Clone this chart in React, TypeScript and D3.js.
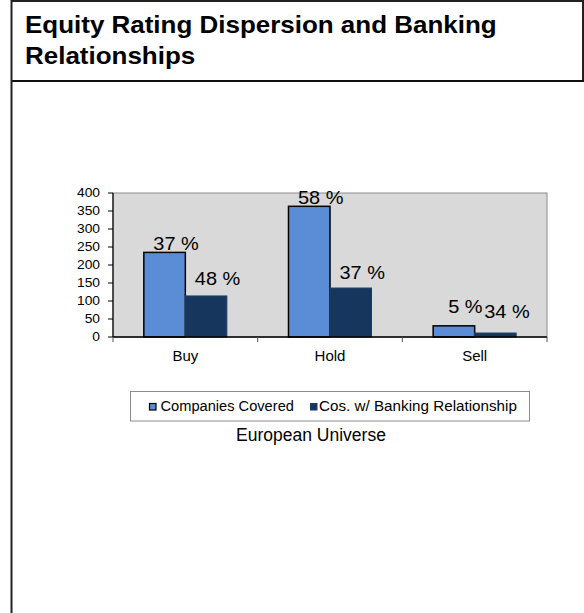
import React from "react";
import * as d3 from "d3";

const categories = ["Buy", "Hold", "Sell"];
const seriesNames = ["Companies Covered", "Cos. w/ Banking Relationship"];
const companiesCovered = [235, 363, 31];
const bankingRelationship = [114, 136, 11];
const companyLabels = ["37 %", "58 %", "5 %"];
const bankingLabels = ["48 %", "37 %", "34 %"];
const yTicks = [0, 50, 100, 150, 200, 250, 300, 350, 400];
const titleLines = ["Equity Rating Dispersion and Banking", "Relationships"];
const subtitle = "European Universe";

// layout / style constants
const W = 584;
const H = 613;
const PLOT = { left: 113, right: 547, top: 193, bottom: 337 };
const COLORS = ["#5A8DD5", "#17365D"];
const FONT = "'Liberation Sans', Arial, Helvetica, sans-serif";
const companyLabelGap = [2, 2, 13];
const bankingLabelGap = [11, 9, 15];
const legendTextScale = [1.01, 1.05];

function SText({ x, y, fs, sx = 1, anchor = "start", weight = "normal", children }: any) {
  return (
    <text
      transform={`translate(${x},${y}) scale(${sx},1)`}
      fontSize={fs}
      fontFamily={FONT}
      fontWeight={weight}
      textAnchor={anchor}
      fill="#000"
    >
      {children}
    </text>
  );
}

export default function App() {
  const x0 = d3
    .scaleBand<string>()
    .domain(categories)
    .range([PLOT.left, PLOT.right])
    .paddingInner(0.4263)
    .paddingOuter(0.21315);
  const x1 = d3.scaleBand<string>().domain(seriesNames).range([0, x0.bandwidth()]);
  const y = d3.scaleLinear().domain([0, 400]).range([PLOT.bottom, PLOT.top]);
  const step = x0.step();
  const boundaries = d3.range(categories.length + 1).map((i) => PLOT.left + i * step);
  const series = [companiesCovered, bankingRelationship];
  const labels = [companyLabels, bankingLabels];
  const gaps = [companyLabelGap, bankingLabelGap];

  return (
    <svg
      width={W}
      height={H}
      style={{ position: "absolute", left: 0, top: 0, background: "#fff" }}
    >
      {/* frame */}
      <line x1={11} x2={583} y1={1} y2={1} stroke="#222" strokeWidth={2} />
      <line x1={583} x2={583} y1={0} y2={81} stroke="#222" strokeWidth={2} />
      <line x1={11} x2={584} y1={81} y2={81} stroke="#111" strokeWidth={2} />
      <line x1={11.5} x2={11.5} y1={0} y2={H} stroke="#222" strokeWidth={2} />

      {/* title */}
      {titleLines.map((t, i) => (
        <SText key={t} x={25} y={33 + i * 31} fs={24.5} sx={1.06} weight="bold">
          {t}
        </SText>
      ))}

      {/* plot area */}
      <rect
        x={PLOT.left}
        y={PLOT.top}
        width={PLOT.right - PLOT.left}
        height={PLOT.bottom - PLOT.top}
        fill="#D9D9D9"
        stroke="#8C8C8C"
        strokeWidth={1}
      />

      {/* bars */}
      {series.map((vals, si) =>
        vals.map((v, ci) => {
          const bx = (x0(categories[ci]) as number) + (x1(seriesNames[si]) as number);
          const bw = x1.bandwidth();
          return (
            <rect
              key={`${si}-${ci}`}
              x={bx}
              y={y(v)}
              width={bw}
              height={y(0) - y(v)}
              fill={COLORS[si]}
              stroke={si === 0 ? "#000" : "#1d3c63"}
              strokeWidth={si === 0 ? 1.5 : 1}
            />
          );
        })
      )}

      {/* bar labels */}
      {series.map((vals, si) =>
        vals.map((v, ci) => {
          const cx =
            (x0(categories[ci]) as number) + (x1(seriesNames[si]) as number) + x1.bandwidth() / 2 + 11.5;
          return (
            <SText key={`l${si}-${ci}`} x={cx} y={y(v) - gaps[si][ci]} fs={19} sx={1.05} anchor="middle">
              {labels[si][ci]}
            </SText>
          );
        })
      )}

      {/* axes */}
      <line x1={PLOT.left} x2={PLOT.left} y1={PLOT.top} y2={PLOT.bottom} stroke="#000" strokeWidth={1.2} />
      <line x1={PLOT.left} x2={PLOT.right} y1={PLOT.bottom} y2={PLOT.bottom} stroke="#000" strokeWidth={1.5} />
      {yTicks.map((t) => (
        <g key={t}>
          <line x1={PLOT.left - 5} x2={PLOT.left} y1={y(t)} y2={y(t)} stroke="#000" strokeWidth={1} />
          <SText x={100} y={y(t) + 4.3} fs={12} sx={1.15} anchor="end">
            {t}
          </SText>
        </g>
      ))}
      {boundaries.map((bx, i) => (
        <line key={i} x1={bx} x2={bx} y1={PLOT.bottom} y2={PLOT.bottom + 5} stroke="#555" strokeWidth={1} />
      ))}
      {categories.map((c) => (
        <SText key={c} x={(x0(c) as number) + x0.bandwidth() / 2} y={361} fs={15} anchor="middle">
          {c}
        </SText>
      ))}

      {/* legend */}
      <rect x={130.5} y={391.5} width={399} height={29.5} fill="#fff" stroke="#8C8C8C" strokeWidth={1} />
      <rect x={149.5} y={403.5} width={6.5} height={6.5} fill={COLORS[0]} stroke="#000" strokeWidth={1.2} />
      <SText x={160.5} y={411} fs={14.5} sx={legendTextScale[0]}>
        {seriesNames[0]}
      </SText>
      <rect x={310.5} y={403.5} width={6.5} height={6.5} fill={COLORS[1]} stroke="#1d3c63" strokeWidth={1} />
      <SText x={319} y={411} fs={14.5} sx={legendTextScale[1]}>
        {seriesNames[1]}
      </SText>

      <SText x={311} y={441} fs={17.5} anchor="middle">
        {subtitle}
      </SText>
    </svg>
  );
}
